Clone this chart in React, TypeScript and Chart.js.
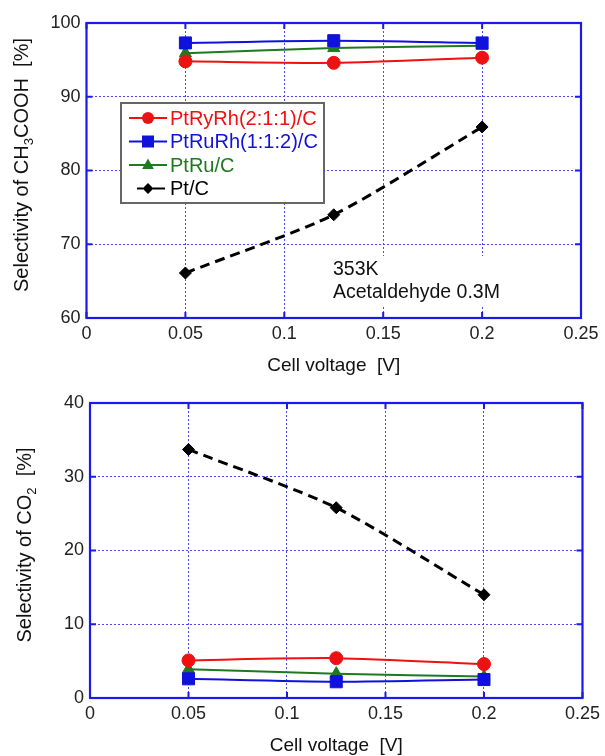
import React, { useEffect, useRef } from "react";
import { Chart, registerables } from "chart.js";
Chart.register(...registerables);

const voltages = [0.05, 0.125, 0.2];
const xTicks = [0, 0.05, 0.1, 0.15, 0.2, 0.25];
const seriesNames = ["PtRyRh(2:1:1)/C", "PtRuRh(1:1:2)/C", "PtRu/C", "Pt/C"];
const aceticPtRuRh211 = [94.8, 94.6, 95.3];
const aceticPtRuRh112 = [97.3, 97.6, 97.3];
const aceticPtRu = [95.9, 96.6, 96.9];
const aceticPt = [66.1, 74.0, 85.9];
const co2PtRuRh211 = [5.1, 5.4, 4.6];
const co2PtRuRh112 = [2.6, 2.2, 2.5];
const co2PtRu = [3.9, 3.3, 2.9];
const co2Pt = [33.7, 25.8, 14.0];
const aceticYTicks = [60, 70, 80, 90, 100];
const co2YTicks = [0, 10, 20, 30, 40];

const FONT = "'Liberation Sans', Arial, Helvetica, sans-serif";
const COLORS = ["#ee1111", "#1111dd", "#1e7a1e", "#000000"];
const STYLES = ["circle", "rect", "triangle", "rectRot"];
const RADII = [6.5, 8.5, 7, 6];
const BOX = "#1a1aee";
const GRID = "#4848ff";

function mkData(vals: number[][]) {
  return {
    datasets: vals.map((v, i) => ({
      label: seriesNames[i],
      data: voltages.map((x, j) => ({ x, y: v[j] })),
      borderColor: COLORS[i],
      backgroundColor: COLORS[i],
      borderWidth: i === 3 ? 3 : 2,
      borderDash: i === 3 ? [10, 6] : [],
      pointStyle: STYLES[i],
      pointRadius: RADII[i],
      pointBorderWidth: 1,
      tension: 0.25,
      fill: false,
    })),
  };
}

function drawMarker(ctx: CanvasRenderingContext2D, style: string, x: number, y: number, r: number, color: string) {
  ctx.save();
  ctx.fillStyle = color;
  ctx.beginPath();
  if (style === "circle") ctx.arc(x, y, r, 0, Math.PI * 2);
  else if (style === "rect") ctx.rect(x - r, y - r, r * 2, r * 2);
  else if (style === "triangle") {
    ctx.moveTo(x, y - r);
    ctx.lineTo(x + r * 0.9, y + r * 0.6);
    ctx.lineTo(x - r * 0.9, y + r * 0.6);
    ctx.closePath();
  } else {
    ctx.moveTo(x, y - r);
    ctx.lineTo(x + r, y);
    ctx.lineTo(x, y + r);
    ctx.lineTo(x - r, y);
    ctx.closePath();
  }
  ctx.fill();
  ctx.restore();
}

function makeOptions(cfg: any) {
  const framePlugin = {
    id: "frame",
    afterDraw(chart: any) {
      const ctx: CanvasRenderingContext2D = chart.ctx;
      const a = chart.chartArea;
      const xs = chart.scales.x;
      const ys = chart.scales.y;
      ctx.save();
      // legend
      if (cfg.legend) {
        const L = cfg.legend;
        ctx.fillStyle = "#fff";
        ctx.fillRect(L.x, L.y, L.w, L.h);
        ctx.strokeStyle = "#666";
        ctx.lineWidth = 2;
        ctx.strokeRect(L.x, L.y, L.w, L.h);
        ctx.font = `20px ${FONT}`;
        ctx.textBaseline = "middle";
        seriesNames.forEach((n, i) => {
          const ry = L.y + 15 + i * 23.5;
          ctx.strokeStyle = COLORS[i];
          ctx.lineWidth = 2;
          ctx.beginPath();
          if (i === 3) {
            ctx.moveTo(L.x + 16, ry);
            ctx.lineTo(L.x + 22, ry);
            ctx.moveTo(L.x + 32, ry);
            ctx.lineTo(L.x + 44, ry);
          } else {
            ctx.moveTo(L.x + 8, ry);
            ctx.lineTo(L.x + 46, ry);
          }
          ctx.stroke();
          const mr = [6, 6, 6.5, 5.5][i];
          drawMarker(ctx, STYLES[i], L.x + 27, ry, mr, COLORS[i]);
          ctx.fillStyle = COLORS[i];
          ctx.fillText(n, L.x + 49, ry + 1);
        });
      }
      // annotation
      if (cfg.note) {
        const N = cfg.note;
        ctx.font = `19.5px ${FONT}`;
        ctx.fillStyle = "#fff";
        ctx.fillRect(N.x - 4, N.y - 19, 180, 50);
        ctx.fillStyle = "#111";
        ctx.textBaseline = "alphabetic";
        ctx.fillText("353K", N.x, N.y);
        ctx.fillText("Acetaldehyde 0.3M", N.x, N.y + 23);
      }
      // frame box
      ctx.strokeStyle = BOX;
      ctx.lineWidth = 2.2;
      ctx.strokeRect(a.left, a.top, a.right - a.left, a.bottom - a.top);
      ctx.lineWidth = 2;
      ctx.beginPath();
      xTicks.forEach((v) => {
        const px = xs.getPixelForValue(v);
        ctx.moveTo(px, a.bottom);
        ctx.lineTo(px, a.bottom - 6);
        ctx.moveTo(px, a.top);
        ctx.lineTo(px, a.top + 6);
      });
      cfg.yTicks.forEach((v: number) => {
        const py = ys.getPixelForValue(v);
        ctx.moveTo(a.left, py);
        ctx.lineTo(a.left + 6, py);
        ctx.moveTo(a.right, py);
        ctx.lineTo(a.right - 6, py);
      });
      ctx.stroke();
      // x title
      ctx.fillStyle = "#111";
      ctx.font = `19px ${FONT}`;
      ctx.textAlign = "center";
      ctx.textBaseline = "middle";
      ctx.fillText("Cell voltage  [V]", (a.left + a.right) / 2, cfg.xTitleY);
      // y title with subscript
      ctx.translate(cfg.yTitleX, cfg.yTitleY);
      ctx.rotate(-Math.PI / 2);
      ctx.textAlign = "left";
      ctx.textBaseline = "middle";
      const big = `20px ${FONT}`;
      const small = `13px ${FONT}`;
      const parts = cfg.yTitle as [string, boolean][];
      let total = 0;
      parts.forEach(([t, sub]) => {
        ctx.font = sub ? small : big;
        total += ctx.measureText(t).width;
      });
      let cx = -total / 2;
      parts.forEach(([t, sub]) => {
        ctx.font = sub ? small : big;
        ctx.fillText(t, cx, sub ? 7 : 0);
        cx += ctx.measureText(t).width;
      });
      ctx.restore();
    },
  };

  const options: any = {
    responsive: false,
    animation: false,
    layout: { padding: cfg.padding },
    plugins: { legend: { display: false }, tooltip: { enabled: false } },
    scales: {
      x: {
        type: "linear",
        min: 0,
        max: 0.25,
        afterBuildTicks: (s: any) => {
          s.ticks = xTicks.map((v) => ({ value: v }));
        },
        afterFit: (s: any) => {
          s.height = cfg.xHeight;
        },
        ticks: {
          callback: (v: any) => String(Math.round(v * 1000) / 1000),
          font: { family: FONT, size: 18 },
          color: "#222",
          padding: 5,
          maxRotation: 0,
          autoSkip: false,
        },
        grid: { color: GRID, lineWidth: 1, drawTicks: false },
        border: { display: false, dash: [2, 2] },
      },
      y: {
        type: "linear",
        min: cfg.yTicks[0],
        max: cfg.yTicks[cfg.yTicks.length - 1],
        afterBuildTicks: (s: any) => {
          s.ticks = cfg.yTicks.map((v: number) => ({ value: v }));
        },
        afterFit: (s: any) => {
          s.width = cfg.yWidth;
        },
        ticks: {
          font: { family: FONT, size: 18 },
          color: "#222",
          padding: 6,
          autoSkip: false,
        },
        grid: { color: GRID, lineWidth: 1, drawTicks: false },
        border: { display: false, dash: [2, 2] },
      },
    },
  };
  return { options, plugins: [framePlugin] };
}

function ChartBox(props: { top: number; vals: number[][]; cfg: any }) {
  const ref = useRef<HTMLCanvasElement | null>(null);
  useEffect(() => {
    if (!ref.current) return;
    const { options, plugins } = makeOptions(props.cfg);
    const chart = new Chart(ref.current, {
      type: "line",
      data: mkData(props.vals) as any,
      options,
      plugins,
    });
    return () => chart.destroy();
  }, []);
  return (
    <canvas
      ref={ref}
      width={605}
      height={378}
      style={{ position: "absolute", left: 0, top: props.top, width: 605, height: 378 }}
    />
  );
}

export default function App() {
  const topCfg = {
    padding: { top: 23, right: 24, left: 0, bottom: 0 },
    yWidth: 86.5,
    xHeight: 60,
    yTicks: aceticYTicks,
    xTitleY: 366,
    yTitleX: 22,
    yTitleY: 165,
    yTitle: [["Selectivity of CH", false], ["3", true], ["COOH  [%]", false]],
    legend: { x: 121, y: 103, w: 203, h: 100 },
    note: { x: 333, y: 275 },
  };
  const botCfg = {
    padding: { top: 25, right: 22, left: 0, bottom: 0 },
    yWidth: 90,
    xHeight: 58,
    yTicks: co2YTicks,
    xTitleY: 368,
    yTitleX: 25,
    yTitleY: 167,
    yTitle: [["Selectivity of CO", false], ["2", true], ["  [%]", false]],
  };
  return (
    <div style={{ position: "absolute", left: 0, top: 0, width: 605, height: 756, background: "#fff" }}>
      <ChartBox top={0} vals={[aceticPtRuRh211, aceticPtRuRh112, aceticPtRu, aceticPt]} cfg={topCfg} />
      <ChartBox top={378} vals={[co2PtRuRh211, co2PtRuRh112, co2PtRu, co2Pt]} cfg={botCfg} />
    </div>
  );
}
